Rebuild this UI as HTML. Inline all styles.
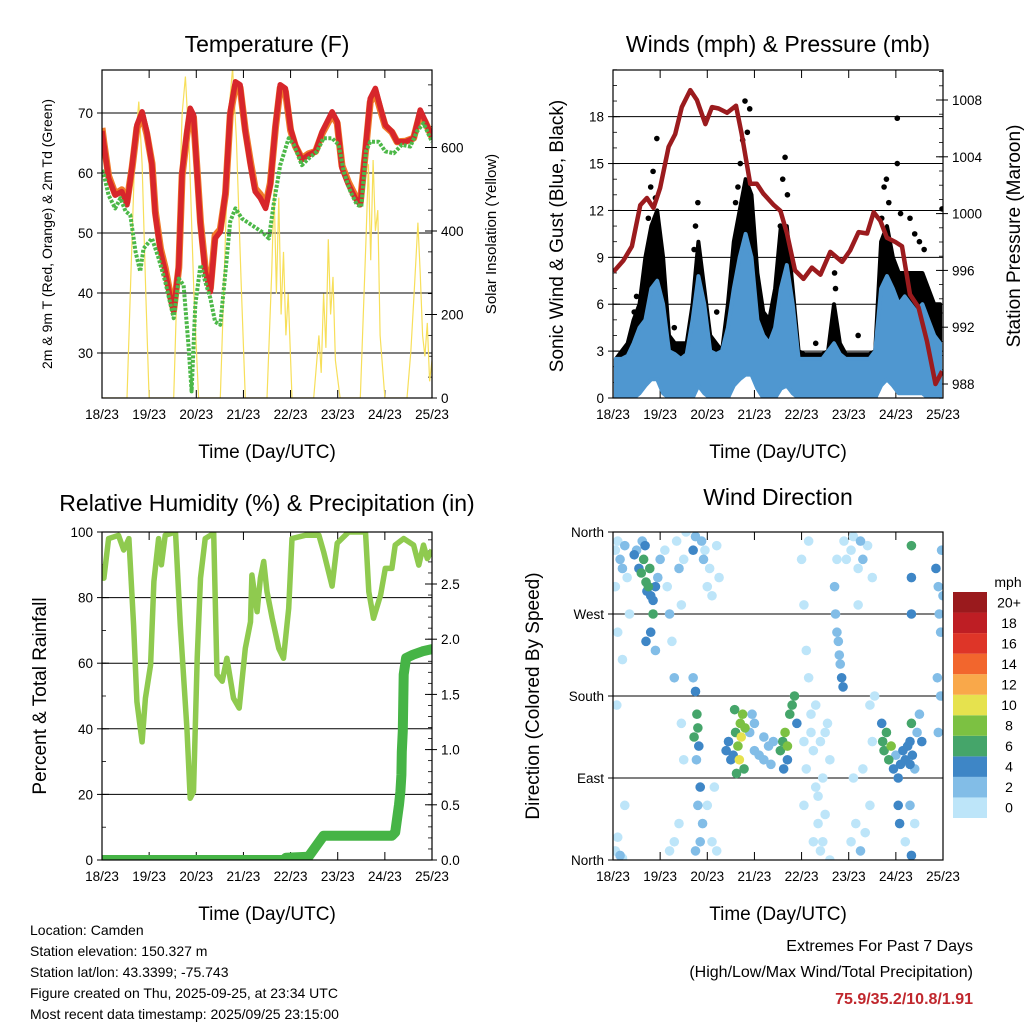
<!DOCTYPE html>
<html><head><meta charset="utf-8"><style>
html,body{margin:0;padding:0;background:#fff;}
svg{display:block;font-family:"Liberation Sans",Arial,sans-serif;}
</style></head><body>
<svg id="chart" width="1024" height="1024" viewBox="0 0 1024 1024" xmlns="http://www.w3.org/2000/svg">
<defs>
<clipPath id="c1"><rect x="102" y="70" width="330" height="328"/></clipPath>
<clipPath id="c2"><rect x="613" y="70" width="330" height="328"/></clipPath>
<clipPath id="c3"><rect x="102" y="532" width="330" height="328"/></clipPath>
<clipPath id="c4"><rect x="613" y="532" width="330" height="328"/></clipPath>
</defs>
<g id="root"></g>
<g font-size="14" fill="#000">
<text x="30" y="935">Location: Camden</text>
<text x="30" y="956">Station elevation: 150.327 m</text>
<text x="30" y="977">Station lat/lon: 43.3399; -75.743</text>
<text x="30" y="998">Figure created on Thu, 2025-09-25, at 23:34 UTC</text>
<text x="30" y="1019">Most recent data timestamp: 2025/09/25 23:15:00</text>
</g>
<g text-anchor="end">
<text x="973" y="951" font-size="16">Extremes For Past 7 Days</text>
<text x="973" y="977" font-size="16">(High/Low/Max Wind/Total Precipitation)</text>
<text x="973" y="1004" font-size="16" font-weight="bold" fill="#c0272d">75.9/35.2/10.8/1.91</text>
</g>
</svg>
<script>
const dayTicks = ["18/23","19/23","20/23","21/23","22/23","23/23","24/23","25/23"];
// Temperature
const tDays = [0,0.04,0.14,0.28,0.42,0.53,0.64,0.74,0.85,0.95,1.06,1.13,1.24,1.34,1.45,1.52,1.63,1.70,1.80,1.87,1.94,2.02,2.09,2.19,2.30,2.40,2.51,2.62,2.72,2.83,2.93,3.04,3.15,3.25,3.36,3.47,3.57,3.68,3.78,3.89,4.0,4.10,4.24,4.38,4.53,4.67,4.88,4.99,5.09,5.23,5.37,5.48,5.59,5.69,5.80,5.91,6.01,6.15,6.26,6.44,6.61,6.75,6.86,7.0];
const temp2m = [67,64.7,59.1,56.3,56.9,54.7,61.3,68,70.2,66.9,61.3,53,46.9,43.6,39.1,36.9,44.7,60.2,66.9,70.8,69.7,59.7,51.3,43.6,40.2,49.1,50.2,56.9,70.2,75.2,74.7,66.9,61.3,56.9,55.8,54.1,58,68,74.7,74.1,67.4,64.7,62.2,63,63.6,66.9,70.2,68.6,60.8,58,55.8,54.7,64.1,72.4,74.1,70.8,68,66.9,65.2,65.2,65.8,70.5,68.6,66];
const temp9m = [67.5,65,59.5,56.5,57.2,55.2,61,67.5,69.6,66.5,61.6,53.6,47.4,44.2,39.6,37.2,44.2,59.6,66.3,70.2,69.3,60.2,51.8,44.2,40.8,49.6,50.6,56.5,69.6,74.6,74.2,67.2,61.8,57.4,56.4,54.6,58.3,67.6,74.2,73.6,67.1,64.5,62.4,63.2,63.6,66.6,69.7,68.3,61.2,58.4,56.2,55.1,63.6,71.8,73.5,70.4,67.8,66.8,65.2,65.3,65.8,70,68.4,66];
const tdDays = [0,0.04,0.14,0.28,0.39,0.50,0.60,0.71,0.81,0.88,1.06,1.20,1.34,1.52,1.63,1.73,1.84,1.90,1.98,2.09,2.19,2.30,2.40,2.51,2.62,2.72,2.83,2.97,3.18,3.39,3.54,3.64,3.78,3.96,4.07,4.24,4.38,4.56,4.70,4.88,5.02,5.13,5.27,5.41,5.50,5.60,5.69,5.87,6.01,6.19,6.36,6.54,6.68,6.82,7.0];
const dewpt = [60.5,59.7,56.3,54.1,55.8,53.6,53,46.9,43.6,47.4,49.1,45.8,41.9,35.8,42.4,41.3,30.8,23.6,38,44.7,41.9,39.1,35.2,34.7,43.6,51.9,54.1,52.4,51.3,50.2,49.1,54.7,61.3,65.8,64.7,61.3,62.4,63.6,65.8,65.8,64.7,60.2,56.9,54.7,54.4,63.6,65.2,65.2,63.6,63.3,64.7,64.4,66.9,68.3,65.2];
const solarDays = [0,0.53,0.6,0.7,0.78,0.85,0.93,1.0,1.52,1.6,1.7,1.77,1.85,1.95,2.05,2.51,2.6,2.7,2.77,2.85,2.95,3.04,3.5,3.6,3.65,3.7,3.75,3.8,3.85,3.9,3.95,4.03,4.49,4.6,4.65,4.7,4.75,4.8,4.85,4.9,4.95,5.05,5.48,5.6,5.65,5.7,5.75,5.8,5.85,5.9,6.0,6.47,6.55,6.62,6.7,6.75,6.8,6.85,6.9,6.95,7.0];
const solarVals = [0,0,250,600,710,560,250,0,0,300,680,770,600,250,0,0,320,700,790,620,280,0,0,300,500,250,480,200,350,150,250,0,0,150,60,250,120,380,200,290,90,0,0,380,560,330,570,400,450,150,0,0,110,250,420,300,150,100,180,40,90];
// Winds
const windBins = 56;
const gustHi = [2.5,3,3.5,5,6,9,11,12,9,4,3.5,3.5,3.5,6,10,7,4,3.5,3,6,10,12,14,13,8,5.5,5,7,11,11,7,3,2.8,2.8,2.8,2.8,3,6,3.5,2.8,2.8,2.8,2.8,2.8,3,10,11,9,8,8,8,8,8,7,6,6];
const gustLo = [0,0,0,0,0.5,1,1.5,1.5,0.5,0,0,0,0,0,1,0.5,0,0,0,0,1,1.5,2,2,1,0,0,0,1,1,0.5,0,0,0,0,0,0,0,0,0,0,0,0,0,0,1,1.5,1,0.5,0.5,0.5,0.5,0.5,0,0,0];
const windHi = [2.5,2.5,2.7,3.5,4.5,5,7,7.5,6,3,2.8,2.5,2.8,5,7.8,6,3,2.8,3,4.5,7,9,10.5,9,5,4,3.5,4.5,7,8.5,6,2.5,2.5,2.5,2.5,2.5,3,3.5,2.8,2.5,2.5,2.5,2.5,2.5,3,7,7.8,7,6,6.5,6,5.5,6,5,4,3.5];
const windLo = [0,0,0,0,0.3,0.8,1.2,1.2,0.3,0,0,0,0,0,0.8,0.3,0,0,0,0,0.8,1.2,1.5,1.5,0.6,0,0,0,0.6,0.8,0.3,0,0,0,0,0,0,0,0,0,0,0,0,0,0,0.8,1.2,0.8,0.3,0.3,0.3,0.3,0.3,0,0,0];
const gustOutDays = [0.93,2.8,6.03,6.03,6.98,0.8,0.85,0.9,0.75,1.75,1.8,1.72,2.7,2.75,2.85,2.9,2.65,2.6,3.6,3.65,3.7,3.55,5.75,5.8,5.85,5.7,6.1,6.3,6.4,6.5,6.6,0.5,0.45,4.7,4.72,1.1,1.3,2.2,4.3,5.2];
const gustOutVals = [16.6,19.0,17.9,15.0,12.1,13.5,14.5,12.8,11.5,11,12.5,9.5,15,16.5,17,18.5,13.5,12.5,14,15.4,13,11,13.5,14,12.5,11.5,11.8,11.5,10.5,10,9.5,6.5,5.5,8,7,5,4.5,5.5,3.5,4];
const presDays = [0.01,0.22,0.40,0.58,0.72,0.86,1.00,1.18,1.32,1.46,1.64,1.78,1.96,2.10,2.24,2.42,2.61,2.73,2.91,3.05,3.19,3.41,3.55,3.69,3.86,4.04,4.22,4.40,4.61,4.86,5.03,5.21,5.39,5.53,5.67,5.81,5.99,6.13,6.30,6.48,6.66,6.84,6.98];
const presVals = [995.9,996.7,997.7,1000.6,1001.1,1000.4,1001.8,1004.7,1005.6,1007.5,1008.7,1008.0,1006.3,1007.5,1007.4,1007.1,1007.6,1005.6,1002.1,1002.1,1001.4,1000.6,1000.2,998.6,996,995.4,996.2,995.7,997.3,996.6,997.4,998.7,998.6,1000.1,999.5,998.3,998.0,997.7,994.3,993.4,991,988,988.9];
// RH & precip
const rhDays = [0,0.04,0.14,0.35,0.46,0.57,0.67,0.74,0.85,0.92,1.03,1.10,1.20,1.26,1.34,1.56,1.66,1.80,1.87,1.94,2.02,2.09,2.19,2.37,2.44,2.55,2.65,2.79,2.91,3.04,3.15,3.18,3.29,3.36,3.43,3.50,3.61,3.75,3.85,3.96,4.03,4.31,4.60,4.70,4.88,4.99,5.23,5.59,5.66,5.76,5.91,6.01,6.15,6.22,6.40,6.61,6.72,6.82,6.90,7.0];
const rhVals = [86,85.9,98,99,94.5,98,71.6,48.3,36,49.3,59.5,84.9,98,90,99,100,71.6,40.2,18.8,20.8,61.5,85.9,98,99.6,56.5,54.5,61.5,49.3,46.3,64.5,72.6,86.9,75.7,85.9,91,81.8,73.7,64.5,61.5,76.7,98,99,99,94,83.5,96.6,100,100,81.8,73.7,80.8,88.9,88.9,96,98,96,89.9,96,91.9,94.5];
const prDays = [0,3.85,3.9,4.38,4.53,4.7,6.15,6.22,6.3,6.33,6.35,6.36,6.38,6.4,6.45,6.6,6.8,7.0];
const prVals = [0,0,0.02,0.03,0.12,0.22,0.22,0.25,0.5,0.62,0.77,0.98,1.17,1.68,1.83,1.86,1.89,1.91];
// Wind direction
const dirDays = [0.05,0.1,0.15,0.2,0.25,0.05,0.3,0.1,0.2,0.35,0.05,0.1,0.15,0.2,0.25,0.08,
0.45,0.5,0.55,0.6,0.65,0.7,0.72,0.75,0.8,0.85,0.78,0.68,0.62,0.9,0.85,0.95,1.0,0.8,0.7,0.9,
1.1,1.15,1.2,1.25,1.3,1.35,1.4,1.45,1.5,1.55,1.2,1.3,1.4,1.45,1.5,
1.7,1.75,1.78,1.8,1.72,1.82,1.77,1.85,1.8,1.9,1.85,1.75,1.88,1.92,1.95,2.0,2.05,2.1,2.2,2.25,2.0,2.1,2.15,2.2,1.7,1.75,
2.4,2.45,2.5,2.55,2.6,2.65,2.7,2.72,2.75,2.8,2.62,2.78,2.68,2.58,
2.9,3.0,3.1,3.2,3.3,3.4,3.0,3.2,3.35,2.95,
3.55,3.6,3.65,3.7,3.75,3.8,3.85,3.9,3.7,3.62,
4.0,4.05,4.1,4.15,4.2,4.25,4.3,4.35,4.4,4.05,4.1,4.2,4.3,4.4,4.45,4.5,4.55,4.6,4.15,4.25,4.35,4.45,4.5,4.6,4.05,
4.7,4.72,4.75,4.78,4.8,4.85,4.82,4.88,4.9,4.95,4.75,
5.05,5.1,5.2,5.25,5.3,5.4,5.5,5.2,5.05,5.15,5.25,5.35,5.45,5.1,5.3,5.5,5.55,5.45,
5.7,5.72,5.75,5.8,5.85,5.9,5.95,6.0,6.05,6.1,6.15,6.2,6.25,6.3,6.35,6.4,6.45,6.5,6.55,6.3,6.05,6.08,6.3,6.4,6.2,
6.33,6.33,6.33,6.33,6.33,
6.85,6.9,6.92,6.95,6.88,6.95,6.9,7.0,6.97];
const dirDeg = [340,350,330,320,345,300,310,250,220,270,10,25,5,2,60,170,
335,340,320,315,330,305,295,300,290,285,320,345,350,300,270,310,330,250,240,230,
340,300,270,240,200,350,320,280,330,360,10,20,40,150,110,
200,185,160,145,135,125,110,80,60,40,20,10,350,330,340,300,320,290,345,310,60,20,80,10,340,355,
120,130,110,115,140,125,150,135,160,145,95,100,110,165,
140,120,115,110,125,130,150,135,105,160,
120,130,140,125,160,170,180,150,110,100,
330,280,230,200,160,120,80,40,10,60,100,140,170,130,90,50,150,110,350,20,70,20,140,0,130,
300,270,250,240,225,200,215,190,350,330,330,
340,355,320,350,330,345,310,280,20,40,10,30,60,90,100,130,180,170,
150,130,120,140,110,125,100,115,90,105,120,110,125,130,115,100,140,160,130,105,60,40,60,40,20,
345,310,270,5,150,
320,300,270,250,200,180,140,290,340];
const dirSpd = [1,1,3,3,2,1,1,1,1,1,1,1,3,1,1,1,
4,3,5,6,7,6,5,7,5,4,7,4,3,5,6,3,3,5,4,3,
1,1,2,1,2,1,2,1,1,1,1,1,1,1,1,
3,4,6,7,6,5,3,4,3,2,3,2,3,2,1,1,1,1,1,1,1,1,1,1,4,3,
5,5,4,5,7,8,8,10,9,8,7,7,11,6,
3,3,3,3,3,3,2,2,3,2,
6,7,8,8,7,6,6,5,5,4,
1,1,1,1,1,1,1,1,1,1,1,1,1,1,1,1,1,1,1,1,1,1,1,1,1,
2,2,3,2,3,4,2,4,1,1,1,
1,1,1,2,2,1,1,1,1,1,3,1,1,1,1,1,1,1,
4,6,7,7,6,8,4,3,4,4,5,4,4,4,4,3,3,2,4,5,4,4,2,1,1,
6,4,4,4,6,
4,3,3,3,3,2,2,3,2];
const speedColors = ["#bde5f9","#82bde7","#3e86c6","#45a56a","#7cc142","#e6e24e","#f9a84a","#f2662d","#de3528","#be1e24","#9a1a1d"];
const speedLabels = ["0","2","4","6","8","10","12","14","16","18","20+"];

const NS="http://www.w3.org/2000/svg";
const root=document.getElementById('root');
function mk(tag,attrs,parent){const e=document.createElementNS(NS,tag);for(const k in attrs)e.setAttribute(k,attrs[k]);(parent||root).appendChild(e);return e;}
function lin(d0,d1,p0,p1){return v=>p0+(v-d0)*(p1-p0)/(d1-d0);}
function txt(x,y,s,size,anchor,parent,rot){const t=mk('text',{x:x,y:y,'font-size':size,'text-anchor':anchor||'middle'},parent);if(rot)t.setAttribute('transform','rotate(-90 '+x+' '+y+')');t.textContent=s;return t;}
function pathOf(xs,ys,X,Y){return xs.map((d,i)=>(i?'L':'M')+X(d).toFixed(1)+','+Y(ys[i]).toFixed(1)).join('');}

function frame(x0,y0,w,h,name,title,titleY){
  const g=mk('g',{});
  
  
  const X=lin(0,7,x0,x0+w);
  const tg=txt(x0+w/2,titleY,title,23,'middle',g);
  
  
  dayTicks.forEach((s,i)=>{
    const x=X(i);
    mk('line',{x1:x,x2:x,y1:y0+h,y2:y0+h-8,stroke:'#000','stroke-width':1},g);
    mk('line',{x1:x,x2:x,y1:y0,y2:y0+8,stroke:'#000','stroke-width':1},g);
    const t=txt(x,y0+h+21,s,13.5,'middle',g);
    
    
  });
  const xt=txt(x0+w/2,y0+h+60,'Time (Day/UTC)',19,'middle',g);
  
  
  return {g,X};
}
function yAxis(g,vals,labels,Y,x,side,grid,x0,w,minor){
  vals.forEach((v,i)=>{
    const y=Y(v);
    if(grid) mk('line',{x1:x0,x2:x0+w,y1:y,y2:y,stroke:'#000','stroke-width':1},g);
    const dir=side==='left'?1:-1;
    mk('line',{x1:x,x2:x+dir*7,y1:y,y2:y,stroke:'#000','stroke-width':1},g);
    mk('line',{x1:x,x2:x-dir*5,y1:y,y2:y,stroke:'#000','stroke-width':1},g);
    const t=txt(side==='left'?x-9:x+9,y+5,labels[i],13.5,side==='left'?'end':'start',g);
    
    
  });
  if(minor){minor.forEach(v=>{const y=Y(v);const dir=side==='left'?1:-1;mk('line',{x1:x,x2:x+dir*4,y1:y,y2:y,stroke:'#000','stroke-width':0.8},g);});}
}
function border(g,x0,y0,w,h){mk('rect',{x:x0,y:y0,width:w,height:h,fill:'none',stroke:'#000','stroke-width':1.2},g);}
function rng(a,b,s){const r=[];for(let v=a;v<=b+1e-9;v+=s)r.push(+v.toFixed(3));return r;}

// ---- Panel 1: Temperature
(function(){
  const x0=102,y0=70,w=330,h=328;
  const {g,X}=frame(x0,y0,w,h,'temperature-panel','Temperature (F)',52);
  const Y=v=>113+(70-v)*6;
  const YS=v=>398-v*0.4175;
  yAxis(g,[30,40,50,60,70],['30','40','50','60','70'],Y,x0,'left',true,x0,w);
  yAxis(g,[0,200,400,600],['0','200','400','600'],YS,x0+w,'right',false,x0,w,rng(0,750,50));
  const pg=mk('g',{'clip-path':'url(#c1)'},g);
  const s=mk('path',{d:pathOf(solarDays,solarVals,X,YS),fill:'none',stroke:'#f7df5a','stroke-width':1.2},pg);
  
  
  const o=mk('path',{d:pathOf(tDays,temp9m,X,Y),fill:'none',stroke:'#f07a2a','stroke-width':7,'stroke-linejoin':'round'},pg);
  
  
  const r=mk('path',{d:pathOf(tDays,temp2m,X,Y),fill:'none',stroke:'#d7262b','stroke-width':5.5,'stroke-linejoin':'round'},pg);
  
  
  const d=mk('path',{d:pathOf(tdDays,dewpt,X,Y),fill:'none',stroke:'#4cb848','stroke-width':4,'stroke-dasharray':'3 1.5','stroke-linejoin':'round'},pg);
  
  
  border(g,x0,y0,w,h);
  const a=txt(52,234,'2m & 9m T (Red, Orange) & 2m Td (Green)',14,'middle',g,true);
  
  
  const b=txt(496,234,'Solar Insolation (Yellow)',15,'middle',g,true);
  
  
})();

// ---- Panel 2: Winds
(function(){
  const x0=613,y0=70,w=330,h=328;
  const {g,X}=frame(x0,y0,w,h,'winds-panel','Winds (mph) & Pressure (mb)',52);
  const Y=v=>398-v*15.63;
  const YP=v=>384-(v-988)*14.2;
  yAxis(g,[0,3,6,9,12,15,18],['0','3','6','9','12','15','18'],Y,x0,'left',true,x0,w,rng(0,21,1));
  yAxis(g,[988,992,996,1000,1004,1008],['988','992','996','1000','1004','1008'],YP,x0+w,'right',false,x0,w,rng(987,1010,1));
  const pg=mk('g',{'clip-path':'url(#c2)'},g);
  const bx=i=>X((i+0.5)*7/windBins);
  function band(hi,lo,color,name){
    let d='';
    hi.forEach((v,i)=>{d+=(i?'L':'M')+bx(i).toFixed(1)+','+Y(v).toFixed(1);});
    for(let i=lo.length-1;i>=0;i--)d+='L'+bx(i).toFixed(1)+','+Y(lo[i]).toFixed(1);
    const p=mk('path',{d:d+'Z',fill:color,stroke:color,'stroke-width':4,'stroke-linejoin':'round'},pg);
    
    
  }
  band(gustHi,gustLo,'#000','gust-band');
  gustOutDays.forEach((d,i)=>{
    const c=mk('circle',{cx:X(d),cy:Y(gustOutVals[i]),r:2.8,fill:'#000'},pg);
    
    
  });
  band(windHi,windLo,'#4f97d0','sonic-wind-band');
  const p=mk('path',{d:pathOf(presDays,presVals,X,YP),fill:'none',stroke:'#9b1b1e','stroke-width':4.5,'stroke-linejoin':'round'},pg);
  
  
  border(g,x0,y0,w,h);
  const a=txt(563,236,'Sonic Wind & Gust (Blue, Black)',19,'middle',g,true);
  
  
  const b=txt(1020,236,'Station Pressure (Maroon)',19,'middle',g,true);
  
  
})();

// ---- Panel 3: RH & Precip
(function(){
  const x0=102,y0=532,w=330,h=328;
  const {g,X}=frame(x0,y0,w,h,'humidity-precip-panel','Relative Humidity (%) & Precipitation (in)',511);
  const Y=v=>860-v*3.28;
  const YR=v=>860-v*110.4;
  yAxis(g,[0,20,40,60,80,100],['0','20','40','60','80','100'],Y,x0,'left',true,x0,w,rng(0,100,10));
  yAxis(g,[0,0.5,1,1.5,2,2.5],['0.0','0.5','1.0','1.5','2.0','2.5'],YR,x0+w,'right',false,x0,w,rng(0,2.9,0.1));
  const pg=mk('g',{'clip-path':'url(#c3)'},g);
  const r=mk('path',{d:pathOf(rhDays,rhVals,X,Y),fill:'none',stroke:'#8fca4f','stroke-width':5.5,'stroke-linejoin':'round'},pg);
  
  
  const p=mk('path',{d:pathOf(prDays,prVals,X,YR),fill:'none',stroke:'#46b446','stroke-width':10,'stroke-linejoin':'round','stroke-linecap':'round'},pg);
  
  
  border(g,x0,y0,w,h);
  const a=txt(46,696,'Percent & Total Rainfall',19,'middle',g,true);
  
  
})();

// ---- Panel 4: Wind direction
(function(){
  const x0=613,y0=532,w=330,h=328;
  const {g,X}=frame(x0,y0,w,h,'wind-direction-panel','Wind Direction',505);
  const Y=v=>860-v*328/360;
  yAxis(g,[0,90,180,270,360],['North','East','South','West','North'],Y,x0,'left',false,x0,w);
  [90,180,270].forEach(v=>mk('line',{x1:x0,x2:x0+w,y1:Y(v),y2:Y(v),stroke:'#000','stroke-width':1},g));
  const pg=mk('g',{'clip-path':'url(#c4)'},g);
  const order=dirSpd.map((s,i)=>i).sort((a,b)=>dirSpd[a]-dirSpd[b]);
  order.forEach(i=>{
    const bin=Math.min(10,Math.floor(dirSpd[i]/2));
    const c=mk('circle',{cx:X(dirDays[i]),cy:Y(dirDeg[i]),r:4.8,fill:speedColors[bin]},pg);
    
    
  });
  border(g,x0,y0,w,h);
  const a=txt(539,696,'Direction (Colored By Speed)',19,'middle',g,true);
  
  
  const lg=mk('g',{},g);
  
  
  const bh=226/11;
  speedColors.forEach((c,i)=>{
    const y=818-(i+1)*bh;
    const rct=mk('rect',{x:953,y:y,width:34,height:bh,fill:c},lg);
    
    
    const t=txt(1009,y+bh/2+5,speedLabels[i],14,'middle',lg);
    
    
  });
  const u=txt(1008,587,'mph',14,'middle',lg);
  
  
})();
</script>
</body></html>
